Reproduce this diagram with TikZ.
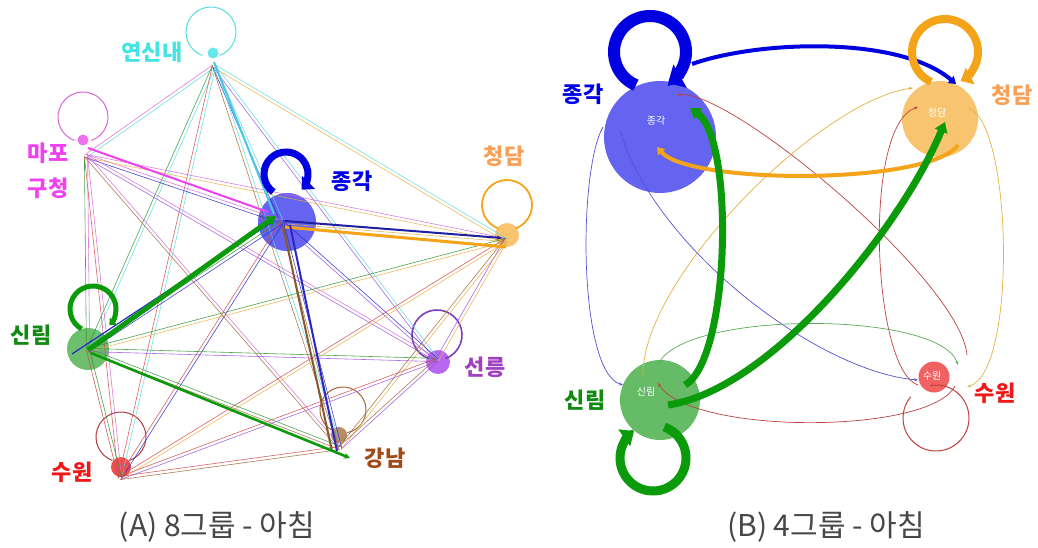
\documentclass[tikz,border=0pt]{standalone}
\usepackage{fontspec}
\newfontfamily\kr{Noto Sans CJK KR}
\usetikzlibrary{arrows.meta,calc}
% edge colours
\definecolor{cY}{HTML}{55DDE0}
\definecolor{cM}{HTML}{D866D8}
\definecolor{cJ}{HTML}{2828C8}
\definecolor{cC}{HTML}{E8B040}
\definecolor{cS}{HTML}{30952F}
\definecolor{cN}{HTML}{9A50E0}
\definecolor{cG}{HTML}{A06838}
\definecolor{cW}{HTML}{D04848}
% fills
\definecolor{fY}{HTML}{66E8E8}
\definecolor{fM}{HTML}{F070F0}
\definecolor{fJ}{HTML}{5C5CF0}
\definecolor{fC}{HTML}{F8C470}
\definecolor{fS}{HTML}{66BB66}
\definecolor{fN}{HTML}{B868F0}
\definecolor{fG}{HTML}{B88A68}
\definecolor{fW}{HTML}{F05050}
% labels
\definecolor{lY}{HTML}{44E4E4}
\definecolor{lM}{HTML}{F040F0}
\definecolor{lJ}{HTML}{0000E8}
\definecolor{lC}{HTML}{F8A058}
\definecolor{lS}{HTML}{108A10}
\definecolor{lN}{HTML}{A040C0}
\definecolor{lG}{HTML}{A04A18}
\definecolor{lW}{HTML}{F01818}
\definecolor{bigJ}{HTML}{0000E0}
\definecolor{bigC}{HTML}{F4A418}
\definecolor{bigS}{HTML}{0A9A0A}
\begin{document}
\begin{tikzpicture}[x=1pt,y=-1pt,
  dot/.style={circle,inner sep=0pt,draw=none},
  lbl/.style={font=\kr\bfseries\fontsize{22}{22}\selectfont,inner sep=0pt},
  inl/.style={font=\kr\fontsize{10}{10}\selectfont,text=white,inner sep=0pt},
  captext/.style={font=\kr\fontsize{30}{30}\selectfont,text=black!72,inner sep=0pt},
  e/.style={line width=0.6pt,opacity=0.85},
  tarr/.style={line width=0.7pt,-{Stealth[length=4pt,width=3pt]}},
  loopthin/.style={line width=1pt},
]
\useasboundingbox (0,0) rectangle (1038,548);
\fill[white] (0,0) rectangle (1038,548);

%================ PANEL A =================
% nodes
\node[dot,fill=fY,minimum size=11pt] (Y) at (213,53) {};
\node[dot,fill=fM,minimum size=11pt] (M) at (83,140) {};
\node[dot,fill=fJ,minimum size=58pt,opacity=0.95] (J) at (287,222) {};
\node[dot,fill=fC,minimum size=24pt] (C) at (507,235) {};
\node[dot,fill=fS,minimum size=42pt,opacity=0.95] (S) at (88,349) {};
\node[dot,fill=fN,minimum size=24pt] (N) at (438,362) {};
\node[dot,fill=fG,minimum size=16pt] (G) at (339,435) {};
\node[dot,fill=fW,minimum size=20pt] (W) at (121,467) {};

% edge anchors
\coordinate (yA) at (214,66);
\coordinate (mA) at (86,156);
\coordinate (jA) at (282,222);
\coordinate (cA) at (506,240);
\coordinate (sA) at (88,350);
\coordinate (nA) at (437,360);
\coordinate (gA) at (340,448);
\coordinate (wA) at (120,478);

% self loops (thin), gap at the bottom
\draw[loopthin,cY] ($(Y)+(-2,-21)$) ++(110:25) arc[start angle=110,end angle=430,radius=25];
\draw[loopthin,cM] ($(M)+(0,-23)$) ++(110:25) arc[start angle=110,end angle=430,radius=25];
\draw[line width=1.8pt,bigC] ($(C)+(0,-30)$) ++(110:25) arc[start angle=110,end angle=430,radius=25];
\draw[line width=1.6pt,cN!80!black] ($(N)+(-1,-27)$) ++(110:25) arc[start angle=110,end angle=430,radius=25];
\draw[loopthin,cG] ($(G)+(4,-25)$) ++(120:23) arc[start angle=120,end angle=440,radius=23];
\draw[loopthin,cW!85!black] ($(W)+(0,-30)$) ++(110:25) arc[start angle=110,end angle=430,radius=25];

% thin edges, both directions
\foreach \a/\b/\ca/\cb in {
  yA/mA/cY/cM, yA/jA/cY/cJ, yA/cA/cY/cC, yA/sA/cY/cS, yA/nA/cY/cN, yA/gA/cY/cG, yA/wA/cY/cW,
  mA/jA/cM/cJ, mA/cA/cM/cC, mA/sA/cM/cS, mA/nA/cM/cN, mA/gA/cM/cG, mA/wA/cM/cW,
  jA/cA/cJ/cC, jA/sA/cJ/cS, jA/nA/cJ/cN, jA/gA/cJ/cG, jA/wA/cJ/cW,
  cA/sA/cC/cS, cA/nA/cC/cN, cA/gA/cC/cG, cA/wA/cC/cW,
  sA/nA/cS/cN, sA/gA/cS/cG, sA/wA/cS/cW,
  nA/gA/cN/cG, nA/wA/cN/cW, gA/wA/cG/cW}{
  \draw[e,draw=\ca] ($(\a)!1.6pt!90:(\b)$) -- ($(\b)!1.6pt!-90:(\a)$);
  \draw[e,draw=\cb] ($(\b)!1.6pt!90:(\a)$) -- ($(\a)!1.6pt!-90:(\b)$);
}

% heavier edges
\draw[line width=2pt,cY!90!blue] ($(yA)+(0,-4)$) -- ($(jA)+(-8,-8)$);
\draw[line width=2pt,lM] ($(mA)+(2,-8)$) -- ($(jA)+(-14,-10)$);
\draw[line width=1.2pt,cJ] ($(sA)+(-16,4)$) -- ($(jA)+(-10,0)$);
\draw[line width=3pt,bigC] ($(jA)+(3,5)$) -- ($(cA)+(0,7)$);
\draw[line width=2pt,cJ!80!black,-{Stealth[length=5pt,width=4pt]}] ($(jA)+(3,-1)$) -- ($(cA)+(-4,-2)$);
\draw[line width=2pt,cG!85!black] ($(gA)+(-8,3)$) -- ($(jA)+(1,4)$);
\draw[line width=2pt,cJ] ($(jA)+(8,3)$) -- ($(gA)+(-3,3)$);
\draw[line width=2.6pt,bigS,-{Stealth[length=6pt,width=6pt]}] ($(sA)+(3,3)$) -- ($(gA)+(10,10)$);
\draw[line width=5pt,bigS,-{Triangle[length=9pt,width=11pt]}] (sA) -- ($(jA)+(-6,-6)$);

% thick self loops in A
\draw[line width=7pt,bigJ,-{Triangle[length=10pt,width=18pt]}] ($(J)+(-1,-48)$) ++(-235:22) arc[start angle=-235,end angle=45,radius=22];
\draw[line width=5pt,bigS,-{Triangle[length=6pt,width=10pt]}] ($(S)+(5,-40)$) ++(-240:23) arc[start angle=-240,end angle=45,radius=23];

% labels A
\node[lbl,text=lY] (tY) at (152,52) {연신내};
\node[lbl,text=lM] (tM1) at (48,153) {마포};
\node[lbl,text=lM] (tM2) at (48,188) {구청};
\node[lbl,text=lJ] (tJ) at (352,181) {종각};
\node[lbl,text=lC] (tC) at (504,156) {청담};
\node[lbl,text=lS] (tS) at (31,335) {신림};
\node[lbl,text=lN] (tN) at (485,367) {선릉};
\node[lbl,text=lG] (tG) at (385,458) {강남};
\node[lbl,text=lW] (tW) at (72,472) {수원};
\node[captext] (capA) at (217,527) {(A) 8그룹 {-} 아침};

%================ PANEL B =================
\node[dot,fill=fJ,minimum size=112pt,opacity=0.95] (J2) at (660,137) {};
\node[dot,fill=fC,minimum size=76pt] (C2) at (940,119) {};
\node[dot,fill=fS,minimum size=80pt] (S2) at (660,400) {};
\node[dot,fill=fW,minimum size=31pt,opacity=0.9] (W2) at (934,377) {};
\node[inl] (iJ) at (656,121) {종각};
\node[inl] (iC) at (937,113) {청담};
\node[inl] (iS) at (646,392) {신림};
\node[inl] (iW) at (932,376) {수원};

% anchor coordinates B
\coordinate (j2a) at (603,127);
\coordinate (j2b) at (620,130);
\coordinate (j2c) at (677,95);
\coordinate (j2d) at (692,64);
\coordinate (j2e) at (657,147);
\coordinate (j2f) at (690,108);
\coordinate (c2a) at (918,107);
\coordinate (c2b) at (913,88);
\coordinate (c2c) at (968,108);
\coordinate (c2d) at (956,84);
\coordinate (c2e) at (958,145);
\coordinate (c2f) at (945,122);
\coordinate (s2a) at (623,385);
\coordinate (s2b) at (658,383);
\coordinate (s2c) at (643,377);
\coordinate (s2d) at (658,365);
\coordinate (s2e) at (685,385);
\coordinate (s2f) at (668,405);
\coordinate (w2a) at (918,380);
\coordinate (w2b) at (967,355);
\coordinate (w2c) at (918,385);
\coordinate (w2d) at (955,386);
\coordinate (w2e) at (967,387);
\coordinate (w2f) at (958,365);

% thin edges B
\draw[tarr,cJ!80] (j2a) .. controls (578,170) and (578,372) .. (s2a);
\draw[tarr,cJ!80] (j2b) .. controls (655,250) and (820,372) .. (w2a);
\draw[tarr,cW!90!black] (w2b) .. controls (960,280) and (730,88) .. (j2c);
\draw[tarr,cW!90!black] (w2c) .. controls (872,370) and (862,125) .. (c2a);
\draw[tarr,cW!90!black] (w2d) .. controls (930,435) and (690,435) .. (s2b);
\draw[tarr,cC] (s2c) .. controls (640,280) and (820,100) .. (c2b);
\draw[tarr,cC] (c2c) .. controls (1012,120) and (1018,372) .. (w2e);
\draw[tarr,cS!80] (s2d) .. controls (680,310) and (940,310) .. (w2f);
\draw[line width=1pt,cW!90!black] ($(W2)+(2,41)$) ++(-100:33) arc[start angle=-100,end angle=220,radius=33];

% thick edges B
\draw[line width=4pt,bigJ,-{Triangle[length=7pt,width=9pt]}] (j2d) .. controls (760,40) and (900,36) .. (c2d);
\draw[line width=4pt,bigC,-{Triangle[length=7pt,width=9pt]}] (c2e) .. controls (930,185) and (690,185) .. (j2e);
\draw[line width=7pt,bigS,-{Triangle[length=10pt,width=13pt]}] (s2e) .. controls (730,360) and (735,140) .. (j2f);
\draw[line width=7pt,bigS,-{Triangle[length=10pt,width=13pt]}] (s2f) .. controls (770,390) and (900,230) .. (c2f);

% thick self loops B
\draw[line width=12pt,bigJ,-{Triangle[length=14pt,width=26pt]}] ($(J2)+(-10,-85)$) ++(-247:36) arc[start angle=-247,end angle=60,radius=36];
\draw[line width=8pt,bigC,-{Triangle[length=11pt,width=18pt]}] ($(C2)+(5,-67)$) ++(-245:33) arc[start angle=-245,end angle=62,radius=33];
\draw[line width=9pt,bigS,-{Triangle[length=12pt,width=20pt]}] ($(S2)+(-7,58)$) ++(-70:33) arc[start angle=-70,end angle=235,radius=33];

% labels B
\node[lbl,text=lJ] (tJ2) at (583,94) {종각};
\node[lbl,text=lC] (tC2) at (1012,95) {청담};
\node[lbl,text=lS] (tS2) at (585,400) {신림};
\node[lbl,text=lW] (tW2) at (995,393) {수원};
\node[captext] (capB) at (826,527) {(B) 4그룹 {-} 아침};
\end{tikzpicture}
\end{document}
